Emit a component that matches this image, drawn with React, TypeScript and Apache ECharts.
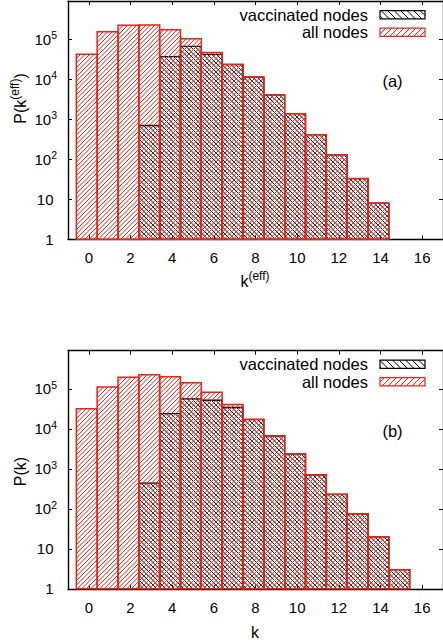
import React, { useEffect, useRef } from "react";
import * as echarts from "echarts";

// ---- data -------------------------------------------------------------
// Panel (a): effective degree distribution
const degreesA = [0, 1, 2, 3, 4, 5, 6, 7, 8, 9, 10, 11, 12, 13, 14];
const allNodesA = [42000, 155000, 224000, 229000, 174000, 103000, 47000, 23700, 11400, 4100, 1380, 412, 130, 33, 8];
const vaccinatedA = [null, null, null, 700, 36700, 66800, 42000, 23300, 11300, 4100, 1380, 412, 130, 33, 8];

// Panel (b): degree distribution
const degreesB = [0, 1, 2, 3, 4, 5, 6, 7, 8, 9, 10, 11, 12, 13, 14, 15];
const allNodesB = [31600, 110000, 195000, 225000, 200000, 142000, 82000, 40300, 17300, 6600, 2330, 703, 230, 75, 20, 3];
const vaccinatedB = [null, null, null, 436, 24000, 56000, 51600, 34000, 17000, 6600, 2330, 703, 230, 75, 20, 3];

const xTickValues = [0, 2, 4, 6, 8, 10, 12, 14, 16];
const yTickValues = [1, 10, 100, 1000, 10000, 100000];

// ---- styling ----------------------------------------------------------
const FONT = '"Liberation Sans", Arial, Helvetica, sans-serif';
const RED = "#e8231a";
const BLACK = "#000000";
const X_MIN = -1;
const X_MAX = 17;
const Y_MIN = 1;
const Y_MAX = 900000;
const BAR_LEFT = -0.6;
const BAR_RIGHT = 0.4;

type Dir = 1 | -1; // 1 => "/" hatching, -1 => "\" hatching

// Diagonal hatch lines clipped to a rectangle, anchored to page pixels so
// neighbouring bars share one continuous pattern.
function hatch(x0: number, y0: number, x1: number, y1: number, step: number, dir: Dir, color: string, width: number) {
  const out: any[] = [];
  const style = { stroke: color, lineWidth: width };
  if (dir === 1) {
    const start = Math.ceil((x0 + y0) / step) * step;
    for (let c = start; c <= x1 + y1; c += step) {
      const lo = Math.max(x0, c - y1);
      const hi = Math.min(x1, c - y0);
      if (hi - lo > 0.05) out.push({ type: "line", silent: true, shape: { x1: lo, y1: c - lo, x2: hi, y2: c - hi }, style });
    }
  } else {
    const start = Math.ceil((x0 - y1) / step) * step;
    for (let c = start; c <= x1 - y0; c += step) {
      const lo = Math.max(x0, c + y0);
      const hi = Math.min(x1, c + y1);
      if (hi - lo > 0.05) out.push({ type: "line", silent: true, shape: { x1: lo, y1: lo - c, x2: hi, y2: hi - c }, style });
    }
  }
  return out;
}

function barRenderer(dir: Dir, color: string, edgeWidth: number) {
  return (_params: any, api: any) => {
    const k = api.value(0);
    const v = api.value(1);
    const tl = api.coord([k + BAR_LEFT, v]);
    const br = api.coord([k + BAR_RIGHT, Y_MIN]);
    const x0 = tl[0], y0 = tl[1], x1 = br[0], y1 = br[1];
    return {
      type: "group",
      children: [
        ...hatch(x0, y0, x1, y1, 4.5, dir, color, 1),
        {
          type: "rect",
          shape: { x: x0, y: y0, width: x1 - x0, height: y1 - y0 },
          style: { fill: "none", stroke: color, lineWidth: edgeWidth },
        },
      ],
    };
  };
}

const pairs = (ks: number[], vs: (number | null)[]) =>
  ks.map((k, i) => [k, vs[i]]).filter((p) => p[1] != null);

const frameLine = { show: true, onZero: false, lineStyle: { color: BLACK, width: 1.4 } };

function xAxesFor(gridIndex: number) {
  const common = {
    type: "value",
    gridIndex,
    min: X_MIN,
    max: X_MAX,
    axisLine: frameLine,
    splitLine: { show: false },
    axisTick: { show: true, inside: true, length: 4, customValues: xTickValues, lineStyle: { color: BLACK, width: 1 } },
  };
  return [
    {
      ...common,
      position: "bottom",
      axisLabel: { customValues: xTickValues, fontSize: 15, color: BLACK, fontFamily: FONT, margin: 11 },
    },
    { ...common, position: "top", axisLabel: { show: false } },
  ];
}

const supRich = {
  b: { fontSize: 15, lineHeight: 15, fontFamily: FONT, color: BLACK },
  p: { fontSize: 15, lineHeight: 15, fontFamily: FONT, color: BLACK, padding: [0, 3.5, 0, 0] },
  s: { fontSize: 10.5, lineHeight: 10.5, fontFamily: FONT, color: BLACK, padding: [0, 0, 8, 0] },
};

function yAxesFor(gridIndex: number) {
  const common = {
    type: "log",
    logBase: 10,
    gridIndex,
    min: Y_MIN,
    max: Y_MAX,
    axisLine: frameLine,
    splitLine: { show: false },
    minorTick: { show: false },
    axisTick: { show: true, inside: true, length: 4, customValues: yTickValues, lineStyle: { color: BLACK, width: 1 } },
  };
  return [
    {
      ...common,
      position: "left",
      axisLabel: {
        customValues: yTickValues,
        margin: 11,
        fontSize: 15,
        fontFamily: FONT,
        color: BLACK,
        rich: supRich,
        formatter: (v: number) => {
          const e = Math.round(Math.log10(v));
          if (e === 0) return "{p|1}";
          if (e === 1) return "{p|10}";
          return `{b|10}{s|${e}}`;
        },
      },
    },
    { ...common, position: "right", axisLabel: { show: false } },
  ];
}

const titleRich = {
  b: { fontSize: 16, lineHeight: 16, fontFamily: FONT, color: BLACK },
  s: { fontSize: 12, lineHeight: 12, fontFamily: FONT, color: BLACK, padding: [0, 0, 10, 0] },
};

function text(x: number, y: number, str: string, opts: any = {}) {
  return {
    type: "text",
    x,
    y,
    rotation: opts.rotation || 0,
    silent: true,
    style: {
      text: str,
      fontSize: opts.fontSize || 16,
      fontFamily: FONT,
      fill: BLACK,
      align: opts.align || "center",
      verticalAlign: "middle",
      rich: opts.rich,
    },
  };
}

function swatch(x: number, y: number, w: number, h: number, dir: Dir, color: string, step: number) {
  return {
    type: "group",
    silent: true,
    children: [
      ...hatch(x, y, x + w, y + h, step, dir, color, 1),
      { type: "rect", shape: { x, y, width: w, height: h }, style: { fill: "none", stroke: color, lineWidth: 1.2 } },
    ],
  };
}

function legendFor(top: number) {
  return [
    text(368, top + 13.5, "vaccinated nodes", { align: "right", fontSize: 16.5 }),
    swatch(380, top + 9.5, 45, 8.3, -1, BLACK, 6.5),
    text(368, top + 31, "all nodes", { align: "right", fontSize: 16.5 }),
    swatch(380, top + 27, 45, 8.3, 1, RED, 6),
  ];
}

const GRID_A_TOP = 1.1;
const GRID_B_TOP = 350.6;
const GRID_H = 238.2;

export default function App() {
  const ref = useRef<HTMLDivElement>(null);

  useEffect(() => {
    if (!ref.current) return;
    const chart = echarts.init(ref.current, null, { renderer: "svg" });
    chart.setOption({
      animation: false,
      backgroundColor: "#ffffff",
      grid: [
        { left: 68, top: GRID_A_TOP, width: 376, height: GRID_H, containLabel: false },
        { left: 68, top: GRID_B_TOP, width: 376, height: GRID_H, containLabel: false },
      ],
      xAxis: [...xAxesFor(0), ...xAxesFor(1)],
      yAxis: [...yAxesFor(0), ...yAxesFor(1)],
      series: [
        {
          type: "custom",
          name: "vaccinated nodes",
          xAxisIndex: 0,
          yAxisIndex: 0,
          renderItem: barRenderer(-1, BLACK, 1.3),
          data: pairs(degreesA, vaccinatedA),
        },
        {
          type: "custom",
          name: "all nodes",
          xAxisIndex: 0,
          yAxisIndex: 0,
          renderItem: barRenderer(1, RED, 1.5),
          data: pairs(degreesA, allNodesA),
        },
        {
          type: "custom",
          name: "vaccinated nodes",
          xAxisIndex: 2,
          yAxisIndex: 2,
          renderItem: barRenderer(-1, BLACK, 1.3),
          data: pairs(degreesB, vaccinatedB),
        },
        {
          type: "custom",
          name: "all nodes",
          xAxisIndex: 2,
          yAxisIndex: 2,
          renderItem: barRenderer(1, RED, 1.5),
          data: pairs(degreesB, allNodesB),
        },
      ],
      graphic: [
        ...legendFor(GRID_A_TOP),
        ...legendFor(GRID_B_TOP),
        text(392.5, 81, "(a)", { fontSize: 16.5 }),
        text(392.5, 431, "(b)", { fontSize: 16.5 }),
        text(255, 281, "{b|k}{s|(eff)}", { rich: titleRich }),
        text(255, 632.5, "k", { fontSize: 16 }),
        text(20, 98.5, "{b|P(k}{s|(eff)}{b|)}", { rich: titleRich, rotation: Math.PI / 2 }),
        text(20, 471.5, "P(k)", { fontSize: 16, rotation: Math.PI / 2 }),
      ],
    });
    return () => chart.dispose();
  }, []);

  return (
    <div
      ref={ref}
      style={{ position: "fixed", left: 0, top: 0, width: 443, height: 642, background: "#ffffff" }}
    />
  );
}
